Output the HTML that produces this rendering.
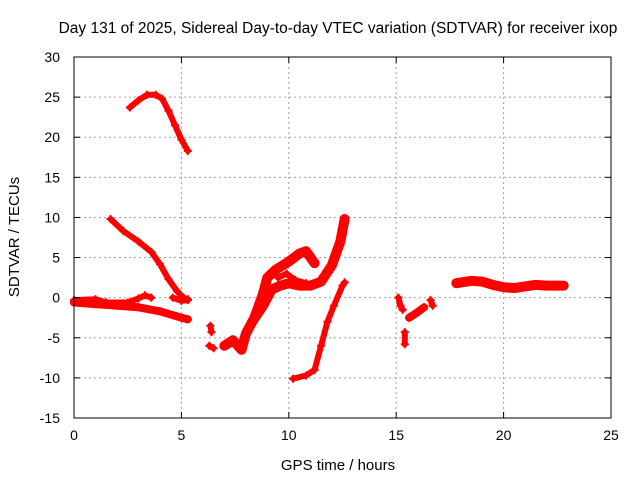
<!DOCTYPE html>
<html><head><meta charset="utf-8"><style>
body{margin:0;background:#fff}
svg{display:block;font-family:"Liberation Sans",sans-serif}
</style></head><body>
<svg id="c" width="640" height="480">
<rect width="640" height="480" fill="#fff"/>
<text x="338" y="33" font-size="15.5" text-anchor="middle">Day 131 of 2025, Sidereal Day-to-day VTEC variation (SDTVAR) for receiver ixop</text>
<text x="338" y="470" font-size="15" text-anchor="middle">GPS time / hours</text>
<text transform="translate(19,237) rotate(-90)" font-size="15" text-anchor="middle">SDTVAR / TECUs</text>
<g id="grid"></g><g id="series"></g><g id="axes"></g>
</svg>
<script>
const xTicks=[0,5,10,15,20,25];
const yTicks=[-15,-10,-5,0,5,10,15,20,25,30];
const segTop=[[2.6,23.7],[3.0,24.6],[3.4,25.3],[3.8,25.3],[4.1,24.8],[4.4,23.3],[4.7,21.5],[5.0,19.7],[5.3,18.3]];
const segDiag=[[1.7,9.8],[2.3,8.3],[3.0,7.0],[3.6,5.7],[4.0,4.2],[4.4,2.3],[4.8,0.8],[5.1,0.0],[5.3,-0.2]];
const segLow=[[0,-0.6],[1,-0.8],[2,-1.0],[3,-1.2],[4,-1.7],[5,-2.5],[5.3,-2.7]];
const segUp=[[0,-0.3],[1.0,-0.2],[1.5,-0.6],[2.5,-0.6],[3.0,-0.1],[3.3,0.3],[3.6,0.0]];
const segSmall=[[4.6,0.0],[5.0,-0.4],[5.3,-0.3]];
const segDipA=[[6.35,-3.5],[6.4,-4.3]];
const segDipB=[[6.3,-6.0],[6.5,-6.3]];
const segRise1=[[7.0,-6.0],[7.4,-5.3],[7.8,-6.5],[8.0,-4.5],[8.4,-2.5],[8.8,0.5],[9.0,2.5],[9.4,3.5],[10.0,4.5],[10.5,5.5],[10.8,5.8],[11.2,4.3]];
const segRise2=[[8.3,-3.0],[8.8,-1.0],[9.2,1.0],[9.6,1.5],[10.0,1.8],[10.5,1.5],[11.0,1.5],[11.5,2.0],[12.0,4.0],[12.4,7.0],[12.6,9.8]];
const segRise3=[[9.5,2.5],[9.9,3.0],[10.3,2.2],[10.8,1.8]];
const segLowRise=[[10.2,-10.1],[10.8,-9.7],[11.2,-9.0],[11.5,-6.0],[11.8,-3.0],[12.1,-1.0],[12.5,1.5],[12.6,1.9]];
const seg15a=[[15.1,0.0],[15.2,-1.0],[15.3,-1.5]];
const seg15b=[[15.4,-4.3],[15.4,-5.8]];
const seg15c=[[15.6,-2.5],[16.0,-1.8],[16.3,-1.2]];
const seg15d=[[16.6,-0.3],[16.7,-1.0]];
const segRight=[[17.8,1.8],[18.5,2.1],[19.0,2.0],[19.5,1.6],[20.0,1.3],[20.5,1.2],[21.0,1.4],[21.5,1.6],[22.0,1.5],[22.8,1.5]];
const segments=[segTop,segDiag,segLow,segUp,segSmall,segDipA,segDipB,segRise1,segRise2,segRise3,segLowRise,seg15a,seg15b,seg15c,seg15d,segRight];
const widths=[6,6,8,6,6,6,6,10,10,6,6,6,6,8,6,10];
const X0=74,X1=611,Y0=418,Y1=57;
const xs=v=>X0+(v-0)/25*(X1-X0);
const ys=v=>Y0-(v+15)/45*(Y0-Y1);
const NS="http://www.w3.org/2000/svg";
function mk(t,a,p){const e=document.createElementNS(NS,t);for(const k in a)e.setAttribute(k,a[k]);p.appendChild(e);return e;}
const grid=document.getElementById('grid'),axes=document.getElementById('axes'),ser=document.getElementById('series');
xTicks.forEach(t=>{
 if(t>0&&t<25){const g=mk('line',{x1:xs(t),x2:xs(t),y1:Y1,y2:Y0,stroke:'#a0a0a0','stroke-dasharray':'2,3'},grid);
 
 }
 const l=mk('text',{x:xs(t),y:Y0+22,'font-size':14,'text-anchor':'middle'},axes);l.textContent=t;
 
 
 mk('line',{x1:xs(t),x2:xs(t),y1:Y0,y2:Y0-6,stroke:'#000'},axes);
 mk('line',{x1:xs(t),x2:xs(t),y1:Y1,y2:Y1+6,stroke:'#000'},axes);
});
yTicks.forEach(t=>{
 if(t>-15&&t<30){const g=mk('line',{x1:X0,x2:X1,y1:ys(t),y2:ys(t),stroke:'#a0a0a0','stroke-dasharray':'2,3'},grid);
 
 }
 const l=mk('text',{x:X0-14,y:ys(t)+5,'font-size':14,'text-anchor':'end'},axes);l.textContent=t;
 
 
 mk('line',{x1:X0,x2:X0+6,y1:ys(t),y2:ys(t),stroke:'#000'},axes);
 mk('line',{x1:X1,x2:X1-6,y1:ys(t),y2:ys(t),stroke:'#000'},axes);
});
const fr=mk('rect',{x:X0,y:Y1,width:X1-X0,height:Y0-Y1,fill:'none',stroke:'#000'},axes);


segments.forEach((s,i)=>{
 const pts=s.map(p=>xs(p[0])+','+ys(p[1])).join(' ');
 const pl=mk('polyline',{points:pts,fill:'none',stroke:'#f00','stroke-width':widths[i],'stroke-linejoin':'round','stroke-linecap':'round'},ser);
 
 
 s.forEach(p=>{
  const m=mk('path',{d:`M${xs(p[0])-4},${ys(p[1])}h8M${xs(p[0])},${ys(p[1])-4}v8`,stroke:'#f00','stroke-width':2},ser);
  
  
 });
});
</script>
</body></html>
